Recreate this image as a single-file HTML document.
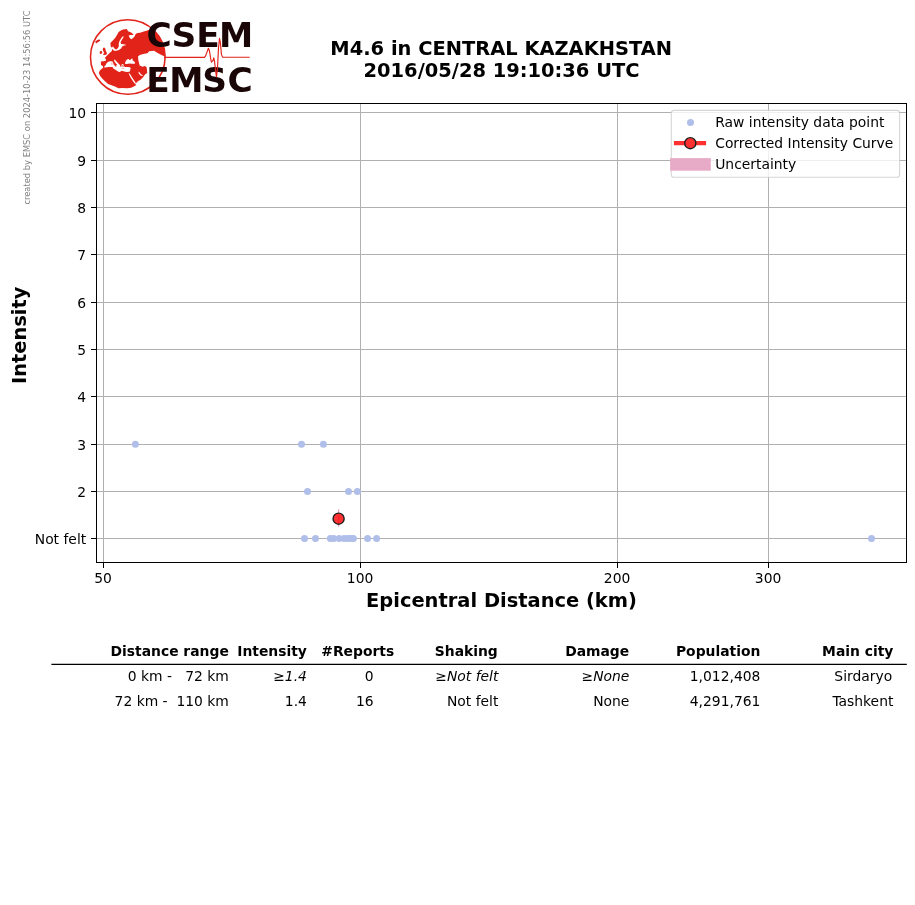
<!DOCTYPE html>
<html lang="en"><head><meta charset="utf-8"><title>M4.6 in CENTRAL KAZAKHSTAN</title>
<style>html,body{margin:0;padding:0;background:#fff}body{width:915px;height:905px;overflow:hidden}svg{display:block}text{font-family:"DejaVu Sans","Liberation Sans",sans-serif;fill:#000}.b{font-weight:bold}.i{font-style:italic}.t10{font-size:13.89px}.t14{font-size:19.44px}</style>
</head><body>
<svg width="915" height="905" viewBox="0 0 915 905">
<rect width="915" height="905" fill="#fff"/>
<g stroke="#b0b0b0" stroke-width="1.1" shape-rendering="crispEdges">
<line x1="103.5" y1="103.5" x2="103.5" y2="562.5"/>
<line x1="360.5" y1="103.5" x2="360.5" y2="562.5"/>
<line x1="617.5" y1="103.5" x2="617.5" y2="562.5"/>
<line x1="768.5" y1="103.5" x2="768.5" y2="562.5"/>
<line x1="96.5" y1="112.5" x2="906.5" y2="112.5"/>
<line x1="96.5" y1="160.5" x2="906.5" y2="160.5"/>
<line x1="96.5" y1="207.5" x2="906.5" y2="207.5"/>
<line x1="96.5" y1="254.5" x2="906.5" y2="254.5"/>
<line x1="96.5" y1="302.5" x2="906.5" y2="302.5"/>
<line x1="96.5" y1="349.5" x2="906.5" y2="349.5"/>
<line x1="96.5" y1="396.5" x2="906.5" y2="396.5"/>
<line x1="96.5" y1="444.5" x2="906.5" y2="444.5"/>
<line x1="96.5" y1="491.5" x2="906.5" y2="491.5"/>
<line x1="96.5" y1="538.5" x2="906.5" y2="538.5"/>
</g>
<g fill="#b0beea">
<circle cx="135.4" cy="444.2" r="3.5"/>
<circle cx="301.5" cy="444.2" r="3.5"/>
<circle cx="323.4" cy="444.2" r="3.5"/>
<circle cx="307.5" cy="491.4" r="3.5"/>
<circle cx="348.5" cy="491.4" r="3.5"/>
<circle cx="357.4" cy="491.4" r="3.5"/>
<circle cx="304.5" cy="538.4" r="3.5"/>
<circle cx="315.5" cy="538.4" r="3.5"/>
<circle cx="330.4" cy="538.4" r="3.5"/>
<circle cx="333.7" cy="538.4" r="3.5"/>
<circle cx="339.2" cy="538.4" r="3.5"/>
<circle cx="344.1" cy="538.4" r="3.5"/>
<circle cx="347.9" cy="538.4" r="3.5"/>
<circle cx="350.7" cy="538.4" r="3.5"/>
<circle cx="353.4" cy="538.4" r="3.5"/>
<circle cx="367.6" cy="538.4" r="3.5"/>
<circle cx="376.6" cy="538.4" r="3.5"/>
<circle cx="871.5" cy="538.4" r="3.5"/>
</g>
<line x1="338.6" y1="509.3" x2="338.6" y2="526.8" stroke="#e8a0bf" stroke-width="1.2"/>
<circle cx="338.6" cy="518.7" r="5.55" fill="#ff3333" stroke="#1c1c1c" stroke-width="1.39"/>
<line x1="338.6" y1="514.3" x2="338.6" y2="523.1" stroke="#ff1a22" stroke-width="1.3" opacity="0.7"/>
<g stroke="#000" stroke-width="1.11" fill="none" shape-rendering="crispEdges">
<rect x="96.5" y="103.5" width="810.0" height="459.0"/>
<line x1="91.0" y1="112.5" x2="96.5" y2="112.5"/>
<line x1="91.0" y1="160.5" x2="96.5" y2="160.5"/>
<line x1="91.0" y1="207.5" x2="96.5" y2="207.5"/>
<line x1="91.0" y1="254.5" x2="96.5" y2="254.5"/>
<line x1="91.0" y1="302.5" x2="96.5" y2="302.5"/>
<line x1="91.0" y1="349.5" x2="96.5" y2="349.5"/>
<line x1="91.0" y1="396.5" x2="96.5" y2="396.5"/>
<line x1="91.0" y1="444.5" x2="96.5" y2="444.5"/>
<line x1="91.0" y1="491.5" x2="96.5" y2="491.5"/>
<line x1="91.0" y1="538.5" x2="96.5" y2="538.5"/>
<line x1="103.5" y1="562.5" x2="103.5" y2="568.0"/>
<line x1="360.5" y1="562.5" x2="360.5" y2="568.0"/>
<line x1="617.5" y1="562.5" x2="617.5" y2="568.0"/>
<line x1="768.5" y1="562.5" x2="768.5" y2="568.0"/>
</g>
<g class="t10">
<text x="86.2" y="117.5" text-anchor="end">10</text>
<text x="86.2" y="165.5" text-anchor="end">9</text>
<text x="86.2" y="212.5" text-anchor="end">8</text>
<text x="86.2" y="259.5" text-anchor="end">7</text>
<text x="86.2" y="307.5" text-anchor="end">6</text>
<text x="86.2" y="354.5" text-anchor="end">5</text>
<text x="86.2" y="401.5" text-anchor="end">4</text>
<text x="86.2" y="449.5" text-anchor="end">3</text>
<text x="86.2" y="496.5" text-anchor="end">2</text>
<text x="86.2" y="543.5" text-anchor="end">Not felt</text>
<text x="103.1" y="583.1" text-anchor="middle">50</text>
<text x="360.1" y="583.1" text-anchor="middle">100</text>
<text x="617.1" y="583.1" text-anchor="middle">200</text>
<text x="768.1" y="583.1" text-anchor="middle">300</text>
</g>
<text class="b t14" x="501.5" y="606.7" text-anchor="middle">Epicentral Distance (km)</text>
<text class="b t14" transform="translate(26.4 335.3) rotate(-90)" text-anchor="middle">Intensity</text>
<text class="b t14" x="501.2" y="55.0" text-anchor="middle">M4.6 in CENTRAL KAZAKHSTAN</text>
<text class="b t14" x="501.5" y="76.8" text-anchor="middle">2016/05/28 19:10:36 UTC</text>
<text transform="translate(30.1 204.6) rotate(-90)" style="font-size:8.33px;fill:#808080">created by EMSC on 2024-10-23 14:56:56 UTC</text>
<rect x="671.3" y="110.4" width="228.3" height="66.9" rx="2.8" ry="2.8" fill="#fff" fill-opacity="0.8" stroke="#ccc" stroke-opacity="0.8" stroke-width="1.11"/>
<circle cx="690.5" cy="122.4" r="3.5" fill="#b0beea"/>
<line x1="676.0" y1="143.1" x2="704.0" y2="143.1" stroke="#ff3030" stroke-width="4.17" stroke-linecap="square"/>
<circle cx="690.3" cy="143.2" r="5.55" fill="#ff3030" stroke="#1c1c1c" stroke-width="1.39"/>
<rect x="670.1" y="158.1" width="40.7" height="12.6" fill="#e8abc7"/>
<g class="t10">
<text x="715.2" y="127.2">Raw intensity data point</text>
<text x="715.2" y="148.2">Corrected Intensity Curve</text>
<text x="715.2" y="169.3">Uncertainty</text>
</g>
<line x1="51.4" y1="664.4" x2="906.8" y2="664.4" stroke="#000" stroke-width="1.3"/>
<g class="t10" text-anchor="end">
<text class="b" x="228.8" y="655.9">Distance range</text>
<text class="b" x="306.9" y="655.9">Intensity</text>
<text class="b" x="394.2" y="655.9">#Reports</text>
<text class="b" x="497.8" y="655.9">Shaking</text>
<text class="b" x="629.2" y="655.9">Damage</text>
<text class="b" x="760.4" y="655.9">Population</text>
<text class="b" x="893.4" y="655.9">Main city</text>
<text x="228.9" y="681.0" xml:space="preserve" style="white-space:pre">0 km -   72 km</text>
<text class="i" x="306.9" y="681.0" xml:space="preserve" style="white-space:pre">≥1.4</text>
<text x="373.6" y="681.0" xml:space="preserve" style="white-space:pre">0</text>
<text class="i" x="498.4" y="681.0" xml:space="preserve" style="white-space:pre">≥Not felt</text>
<text class="i" x="629.4" y="681.0" xml:space="preserve" style="white-space:pre">≥None</text>
<text x="760.4" y="681.0" xml:space="preserve" style="white-space:pre">1,012,408</text>
<text x="892.2" y="681.0" xml:space="preserve" style="white-space:pre">Sirdaryo</text>
<text x="228.9" y="706.0" xml:space="preserve" style="white-space:pre">72 km -  110 km</text>
<text x="306.9" y="706.0" xml:space="preserve" style="white-space:pre">1.4</text>
<text x="373.6" y="706.0" xml:space="preserve" style="white-space:pre">16</text>
<text x="498.4" y="706.0" xml:space="preserve" style="white-space:pre">Not felt</text>
<text x="629.4" y="706.0" xml:space="preserve" style="white-space:pre">None</text>
<text x="760.4" y="706.0" xml:space="preserve" style="white-space:pre">4,291,761</text>
<text x="893.4" y="706.0" xml:space="preserve" style="white-space:pre">Tashkent</text>
</g>
<g id="logo">
<circle cx="127.8" cy="57.0" r="37.3" fill="none" stroke="#e2231a" stroke-width="1.55"/>
<clipPath id="gc"><circle cx="127.8" cy="57.0" r="37.6"/></clipPath>
<g fill="#e2231a" clip-path="url(#gc)">
<path d="M110.4 43.0 L112.1 41.3 L114.7 38.6 L116.7 35.4 L118.6 32.1 L121.2 30.2 L123.2 29.4 L126.8 29.1 L128.1 31.2 L131.7 32.7 L133.6 34.9 L130.7 35.0 L128.6 35.4 L129.8 38.1 L131.2 39.3 L133.2 38.1 L134.5 36.6 L135.2 34.7 L137.1 33.0 L140.1 32.8 L143.8 31.6 L146.5 30.8 L148.4 29.9 L154.0 29.8 L159.8 33.7 L163.7 38.6 L165.7 45.5 L166.1 52.4 L165.9 56.5 L163.0 55.7 L158.1 53.3 L154.0 50.8 L149.1 51.2 L147.5 53.3 L144.2 53.7 L139.7 54.9 L138.0 56.5 L138.4 60.6 L139.7 65.6 L142.5 66.8 L145.0 66.0 L146.7 67.6 L147.2 72.9 L145.0 74.6 L143.3 77.1 L140.9 79.5 L137.6 81.6 L135.4 83.9 L136.1 85.3 L134.2 86.3 L131.2 87.8 L127.3 88.3 L122.4 88.0 L118.4 88.3 L115.5 86.8 L111.6 85.3 L108.1 83.9 L104.7 81.1 L102.2 78.4 L100.2 76.0 L98.8 73.0 L99.8 70.6 L102.2 68.6 L103.2 67.6 L102.8 66.1 L101.0 65.1 L100.8 61.4 L103.5 61.2 L105.9 60.7 L105.9 59.1 L104.7 57.9 L106.1 56.5 L108.1 54.5 L110.1 52.6 L111.7 51.3 L112.3 48.7 L113.4 50.2 L114.8 51.1 L118.3 50.2 L121.2 48.4 L121.9 46.7 L123.4 45.7 L126.5 45.0 L123.8 44.3 L121.2 44.0 L120.5 42.3 L121.8 39.9 L123.2 37.7 L123.8 36.4 L122.5 36.4 L120.9 38.8 L119.4 41.3 L118.7 43.8 L118.9 45.9 L118.0 48.0 L116.3 49.5 L114.7 48.7 L113.7 47.4 L113.0 46.3 L112.0 47.7 L110.7 46.4Z"/>
<path d="M103.3 47.7 L105.0 47.8 L105.7 50.6 L107.0 53.2 L106.3 54.7 L103.5 55.0 L103.0 53.9 L104.4 52.9 L103.3 51.2 L102.7 49.2Z"/>
<path d="M99.8 51.6 L101.5 50.7 L102.3 52.6 L101.3 54.0 L99.8 53.8Z"/>
<path d="M95.2 41.4 L97.8 39.8 L99.8 39.4 L100.2 40.8 L98.3 42.1 L96.0 43.5Z"/>
</g>
<g fill="#fff">
<path d="M103.7 67.2 L105.7 65.1 L106.7 63.1 L108.3 61.8 L110.2 61.2 L112.2 61.3 L113.1 62.5 L113.7 64.5 L115.1 66.0 L116.4 66.6 L116.1 65.1 L117.2 64.7 L115.5 63.1 L114.4 61.4 L114.0 59.9 L114.8 59.4 L115.9 60.7 L117.2 62.3 L118.5 63.6 L119.9 65.1 L120.7 66.9 L121.6 66.4 L121.4 64.7 L122.3 64.0 L123.8 64.7 L124.2 66.4 L125.1 67.1 L127.7 67.1 L129.9 67.3 L130.8 68.0 L130.3 69.5 L130.1 70.8 L129.5 71.7 L126.9 71.9 L124.2 71.5 L121.6 70.8 L119.9 71.9 L118.5 71.7 L116.8 70.8 L115.1 69.5 L113.5 68.8 L112.9 67.3 L111.1 67.1 L108.1 67.1 L105.9 67.4Z"/>
<path d="M125.0 63.1 L125.5 61.4 L126.9 59.4 L128.6 59.0 L129.5 60.1 L130.6 59.7 L131.7 58.6 L132.8 58.8 L132.5 60.3 L134.3 61.4 L135.2 62.9 L134.7 63.8 L132.1 63.8 L129.5 63.5 L126.9 64.0 L125.3 63.9Z"/>
<path d="M138.3 71.5 L139.7 72.5 L140.9 74.2 L142.9 75.2 L142.5 76.1 L140.5 75.4 L138.9 73.7Z"/>
<path d="M128.5 73.1 L129.9 73.7 L131.9 77.1 L134.0 80.3 L135.6 82.8 L135.8 84.2 L134.4 83.2 L132.7 80.7 L130.6 77.5 L129.1 74.6Z"/>
</g>
<g fill="#e2231a" fill-opacity="0.5">
<path d="M111.5 62.3 L112.3 62.3 L112.4 64.9 L111.6 64.9Z"/>
<path d="M114.6 65.3 L116.6 65.1 L116.4 66.6 L115.1 66.8Z"/>
<path d="M121.8 65.1 L123.8 65.1 L124.0 66.9 L122.5 67.3Z"/>
<path d="M121.6 68.3 L124.2 68.1 L124.2 68.7 L121.8 68.8Z"/>
</g>
<g style="font-weight:bold;font-size:34.4px">
<text x="146.56 171.48 196.22 218.88" y="47.0" style="fill:#1a0606">CSEM</text>
<text x="146.22 169.18 202.33 227.56" y="92.1" style="fill:#1a0606">EMSC</text>
</g>
<path d="M164.0 57.3 L204.5 57.3 L205.7 55.6 L208.4 48.3 L209.5 51.0 L210.7 58.7 L211.4 62.1 L213.0 60.6 L213.7 57.9 L214.5 61.0 L215.6 70.9 L216.5 77.0 L217.5 67.8 L218.5 48.0 L219.5 38.4 L220.4 42.6 L221.4 54.1 L222.5 57.1 L249.7 57.3" fill="none" stroke="#e2231a" stroke-width="1.15" stroke-linejoin="round"/>
</g>
</svg></body></html>
